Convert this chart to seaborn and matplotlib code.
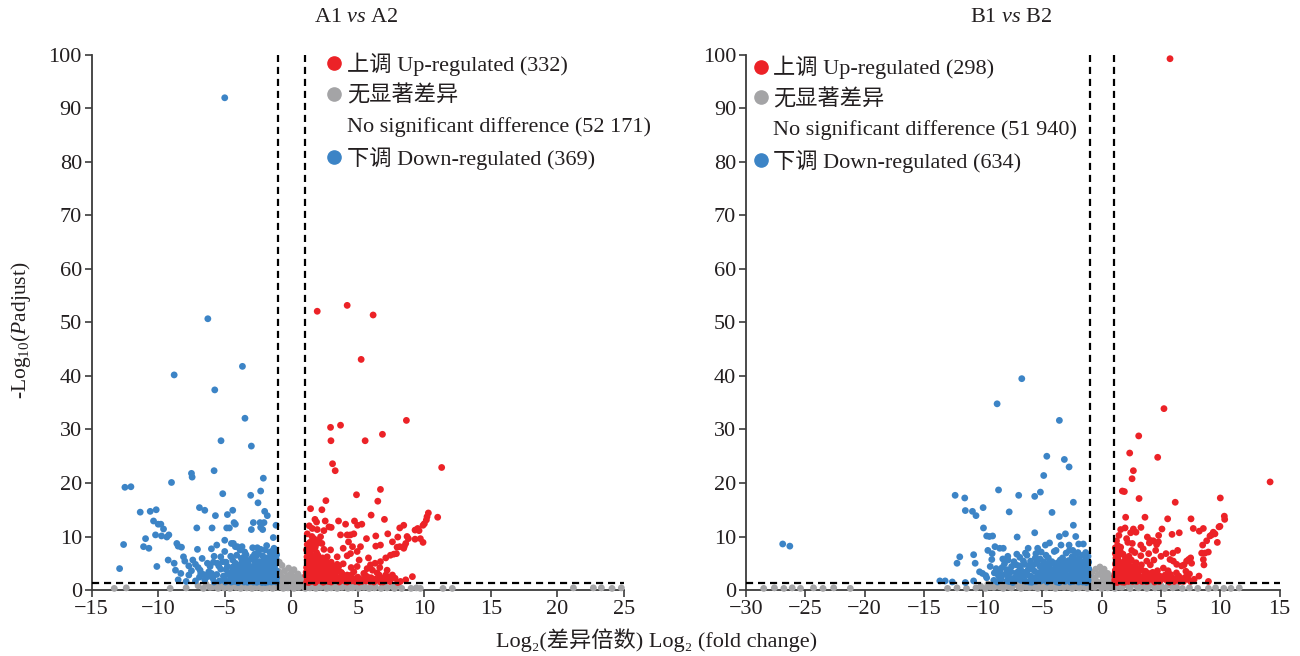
import matplotlib
matplotlib.use("Agg")
import matplotlib.pyplot as plt
from matplotlib.lines import Line2D
from matplotlib.font_manager import FontProperties
import seaborn as sns
import pandas as pd

# ---------------- data ----------------
titles = ["A1 vs A2", "B1 vs B2"]
legend_counts_a = ["332", "52 171", "369"]
legend_counts_b = ["298", "51 940", "634"]
xticks_a = [-15, -10, -5, 0, 5, 10, 15, 20, 25]
xticks_b = [-30, -25, -20, -15, -10, -5, 0, 5, 10, 15]
yticks = [0, 10, 20, 30, 40, 50, 60, 70, 80, 90, 100]
fc_cut = [-1, 1]
p_cut = 1.3

a1_down = [(-5.0,92.0),(-6.27,50.7),(-3.67,41.8),(-8.8,40.2),(-5.75,37.4),(-3.48,32.1),(-5.28,27.9),(-3.0,26.9),
    (-5.8,22.3),(-7.5,21.8),(-7.45,21.1),(-2.1,20.9),(-9.0,20.1),(-12.5,19.2),(-12.05,19.3),(-5.15,18.0),(-2.3,18.5),
    (-3.05,17.7),(-2.5,16.3),(-6.9,15.4),(-6.5,14.9),(-11.35,14.55),(-10.6,14.7),(-10.15,15.0),(-4.4,14.9),(-4.8,14.1),
    (-5.7,13.9),(-2.0,14.7),(-1.8,13.9),(-10.35,12.9),(-10.0,12.3),(-9.8,12.3),(-9.6,11.4),(-9.2,10.3),(-9.35,9.9),
    (-10.2,10.3),(-9.75,10.1),(-10.95,9.6),(-11.1,8.1),(-10.7,7.8),(-12.6,8.5),(-12.9,4.0),(-10.1,4.4),(-7.1,11.6),
    (-5.95,11.6),(-4.85,11.6),(-4.65,11.6),(-4.3,12.6),(-4.2,12.3),(-2.85,12.6),(-2.35,12.6),(-2.05,12.6),(-3.0,11.3),
    (-2.3,11.7),(-2.15,11.3),(-1.35,9.8),(-1.15,12.1),(-8.6,8.7),(-8.5,8.2),(-8.25,8.0),(-7.05,7.6),(-6.0,7.7),(-5.6,8.4),
    (-5.0,9.3),(-4.5,8.7),(-4.35,8.7),(-4.2,8.1),(-4.05,8.1),(-3.7,8.1),(-3.85,7.5),(-2.9,7.9),(-2.55,7.9),(-2.3,7.6),
    (-1.95,7.5),(-1.5,7.2),(-1.85,8.3),(-1.3,7.8),(-9.25,5.6),(-8.8,5.0),(-8.7,3.7),(-8.3,3.1),(-8.1,6.2),(-8.0,5.4),
    (-7.7,4.5),(-7.7,2.8),(-7.4,5.6),(-7.2,4.8),(-6.85,3.7),(-6.8,3.1),(-6.7,5.9),(-6.3,5.0),(-6.2,3.4),(-6.0,3.1),
    (-5.8,6.3),(-5.85,5.2),(-5.55,5.0),(-5.3,6.2),(-5.15,5.3),(-5.0,7.2),(-4.8,4.4),(-4.7,3.1),(-4.55,6.3),(-4.4,5.6),
    (-4.2,5.0),(-4.05,3.7),(-3.75,5.9),(-3.55,5.0),(-3.3,4.2),(-3.2,3.1),(-3.9,2.2),(-3.6,1.8),(-3.4,2.6),(-3.1,1.6),
    (-2.9,2.9),(-2.7,2.0),(-2.5,3.4),(-2.3,1.7),(-2.1,2.5),(-1.9,3.8),(-1.7,2.1),(-1.5,2.9),(-1.35,1.6),(-1.25,4.5),
    (-1.6,5.2),(-2.0,4.6),(-2.4,5.3),(-2.8,4.4),(-3.0,5.8),(-1.4,6.3),(-1.8,6.0),(-2.6,6.4),(-3.4,6.6),(-1.25,3.3),
    (-1.45,2.3),(-1.75,1.5),(-2.2,1.4),(-2.6,2.6),(-3.3,3.6),(-3.7,3.0),(-4.3,2.4),(-4.6,1.8),(-5.1,2.6),(-5.4,1.7),
    (-5.9,2.2),(-6.5,1.9),(-7.2,1.7),(-7.9,1.6),(-4.9,3.8),(-4.4,4.3),(-3.9,4.6),(-2.2,3.1),(-1.3,5.4),(-1.55,4.0),
    (-2.75,3.2),(-3.5,4.0),(-2.05,5.8),(-1.2,2.6),
    (-4.95,1.5),(-4.75,2.9),(-4.5,1.5),(-4.25,3.2),(-4.0,1.4),(-3.8,3.7),(-3.55,1.5),(-3.35,2.0),(-3.15,2.6),(-3.05,4.4),
    (-2.85,1.5),(-2.65,3.7),(-2.45,2.2),(-2.35,4.1),(-2.15,1.9),(-2.0,3.6),(-1.85,2.6),(-1.65,3.3),(-1.55,1.9),(-1.4,3.9),
    (-1.3,2.1),(-1.15,3.0),(-1.12,1.5),(-1.2,4.9),(-1.5,5.8),(-1.7,4.6),(-2.25,4.9),(-2.7,5.1),(-3.25,5.2),(-3.6,6.1),
    (-4.1,6.5),(-1.1,6.6),(-1.6,7.0),(-2.5,7.0),(-3.9,3.4),(-4.55,2.3),(-5.3,3.9),(-5.6,2.9),(-6.3,2.5),(-6.9,2.4),
    (-7.5,3.6),(-8.5,1.9),(-1.95,1.4),(-2.6,1.45),(-3.3,1.45),(-4.25,1.6),(-5.8,1.5),(-1.35,5.0),(-1.85,5.3),(-2.9,6.2),
    (-3.7,5.3),
    (-4.45,3.5),(-4.15,4.6),(-3.95,2.8),(-3.75,1.9),(-3.65,4.1),(-3.45,3.2),(-3.35,5.6),(-3.2,1.9),(-3.1,3.9),(-2.95,2.3),
    (-2.8,5.6),(-2.75,1.8),(-2.6,4.8),(-2.5,2.7),(-2.45,3.9),(-2.3,2.4),(-2.2,4.4),(-2.1,1.6),(-2.05,3.3),(-1.95,2.3),
    (-1.9,4.9),(-1.8,1.8),(-1.75,3.9),(-1.65,2.6),(-1.6,4.4),(-1.5,1.5),(-1.45,3.4),(-1.4,5.6),(-1.3,2.8),(-1.25,4.0),
    (-1.18,1.9),(-1.15,5.9),(-1.12,3.6),(-1.1,2.3),(-1.2,7.0),(-1.45,6.8),(-1.7,5.6),(-2.15,6.4),(-2.75,6.7),(-3.5,7.1),
    (-4.9,5.2),(-5.45,4.5),(-6.1,4.4),(-6.6,2.9),(-7.0,4.2),(-5.0,1.9),(-4.05,2.7),(-3.05,3.2)]

a1_up = [(1.95,52.1),(4.2,53.2),(6.15,51.4),(5.25,43.1),(8.65,31.7),(2.95,30.4),(3.7,30.8),(2.98,27.9),(5.55,27.9),
    (6.85,29.1),(3.1,23.6),(3.3,22.3),(11.3,22.9),(4.9,17.8),(6.7,18.8),(6.5,16.6),(2.6,16.7),(1.45,15.2),(2.3,15.0),
    (6.0,14.0),(10.3,14.4),(10.2,13.7),(11.0,13.6),(1.78,13.2),(1.9,12.7),(2.55,12.9),(3.55,12.9),(4.08,12.3),(4.75,12.9),
    (4.98,12.1),(2.83,11.8),(3.0,11.7),(1.58,11.5),(1.95,11.3),(10.15,13.1),(10.0,12.4),(9.9,12.1),(9.5,11.5),(9.3,11.2),
    (9.6,11.1),(8.45,12.1),(8.15,11.6),(5.65,9.6),(6.35,10.1),(7.25,10.5),(6.7,8.4),(6.35,8.2),(8.7,10.0),(8.8,9.6),
    (9.3,9.5),(9.7,9.6),(9.9,8.9),(8.6,8.7),(8.5,8.2),(8.15,8.1),(7.95,8.0),(2.45,11.1),(3.7,10.3),(4.2,10.3),(4.45,10.3),
    (4.3,9.0),(4.6,8.1),(4.2,6.4),(4.45,6.8),(4.95,7.2),(5.2,8.1),(2.3,8.7),(2.45,7.6),(2.95,7.5),(2.7,6.2),(3.1,4.5),
    (3.45,6.2),(1.7,9.6),(1.5,8.1),(1.55,6.2),(1.95,8.7),(2.2,9.95),(7.7,6.7),(7.45,6.5),(7.1,6.0),(6.7,5.3),(6.3,5.0),
    (5.95,4.7),(5.7,4.0),(6.1,3.7),(6.65,4.2),(7.2,3.7),(7.6,2.8),(7.1,2.8),(6.8,2.2),(6.45,3.2),(5.45,3.1),(4.95,4.4),
    (4.7,3.4),(4.2,2.8),(3.8,3.1),(3.2,2.5),(8.45,7.8),(7.9,6.8),(1.2,2.0),(1.3,3.5),(1.25,5.0),(1.35,6.5),(1.5,1.6),
    (1.6,2.8),(1.7,4.2),(1.75,5.6),(1.9,7.0),(2.0,1.8),(2.1,3.2),(2.2,4.8),(2.35,6.0),(2.5,2.2),(2.6,3.8),(2.8,1.6),
    (2.9,2.9),(3.0,5.2),(3.3,1.9),(3.5,3.5),(3.7,2.3),(4.0,1.7),(4.4,2.1),(4.8,1.6),(5.2,2.0),(5.6,1.7),(6.0,2.3),
    (6.4,1.8),(6.9,1.5),(7.3,1.9),(7.8,2.2),(8.2,1.6),(1.15,7.5),(1.4,8.9),(1.3,1.4),(1.8,1.4),(2.4,1.45),(3.6,1.5),
    (1.45,4.5),(1.95,5.0),(2.75,4.8),(3.2,3.9),(3.9,4.9),(4.5,4.2),(5.1,5.6),(5.5,3.0),(5.8,6.0),(1.55,10.0),(2.05,9.3),
    (3.9,7.8),(4.7,10.5),(5.3,12.3),(7.0,13.2),(8.0,9.9),(7.6,9.0),
    (1.15,1.5),(1.1,2.7),(1.15,4.2),(1.2,5.6),(1.4,2.3),(1.45,3.0),(1.55,5.3),(1.65,1.9),(1.75,3.4),(1.85,2.2),(1.9,4.4),
    (2.05,2.6),(2.15,5.6),(2.3,1.6),(2.35,3.8),(2.45,2.9),(2.55,4.6),(2.7,2.4),(2.85,3.5),(3.0,1.5),(3.1,2.6),(3.3,3.0),
    (3.45,2.2),(3.55,4.3),(3.8,1.9),(3.95,2.6),(4.2,1.5),(4.5,2.8),(4.7,1.9),(5.0,2.4),(5.3,1.6),(5.7,2.5),(6.2,1.5),
    (6.6,2.8),(7.0,1.7),(7.5,2.5),(8.0,1.4),(8.6,1.9),(9.1,2.5),(1.25,6.8),(1.6,6.0),(1.3,8.0),(1.7,7.6),(2.0,6.5),
    (2.6,5.4),(1.2,10.5),(1.35,12.0),
    (1.12,3.3),(1.18,6.2),(1.22,2.3),(1.28,4.6),(1.33,1.8),(1.38,3.9),(1.42,7.1),(1.5,2.0),(1.55,3.6),(1.6,4.9),
    (1.65,2.5),(1.72,6.3),(1.78,1.6),(1.82,3.0),(1.88,5.2),(1.98,2.3),(2.02,4.0),(2.1,6.0),(2.18,2.0),(2.25,4.2),
    (2.3,2.9),(2.4,5.1),(2.5,1.6),(2.55,3.3),(2.65,2.0),(2.7,4.3),(2.85,2.7),(2.95,3.9),(3.05,1.8),(3.2,3.2),(3.35,2.5),
    (3.45,4.8),(3.6,2.0),(3.75,3.3),(3.9,2.2),(4.1,1.6),(4.3,2.4),(4.55,1.7),(4.85,2.1),(5.1,1.5),(5.45,2.0),(5.9,1.6),
    (6.3,2.0),(6.7,1.5),(7.4,1.6),(1.2,8.5),(1.55,8.8),(1.8,8.0)]

a1_none = [(-13.3,0.3),(-12.4,0.4),(-9.1,0.3),(-7.9,0.4),(-6.6,0.3),(-6.1,0.5),(-5.5,0.3),(-5.05,0.4),(-4.6,0.3),
    (-4.15,0.5),(-3.8,0.3),(-3.35,0.4),(-2.95,0.3),(-2.6,0.5),(-2.2,0.3),(-1.85,0.4),(-1.4,0.3),(-1.05,0.5),(-0.6,0.3),
    (-0.25,0.4),(0.2,0.3),(0.55,0.5),(1.05,0.3),(1.4,0.4),(1.85,0.3),(2.2,0.5),(2.65,0.3),(3.0,0.4),(3.45,0.3),(3.8,0.5),
    (4.25,0.3),(4.6,0.4),(5.05,0.3),(5.45,0.5),(5.85,0.3),(6.25,0.4),(6.75,0.3),(7.2,0.4),(7.75,0.3),(8.3,0.3),(9.0,0.3),
    (9.4,0.4),(9.7,0.3),(11.4,0.3),(12.1,0.3),(21.2,0.4),(22.7,0.4),(23.3,0.4),(24.1,0.3),(24.8,0.4),
    (-5.2,0.9),(-4.4,1.0),(-3.6,0.8),(-2.9,1.0),(-2.3,0.9),(-1.6,1.0),(-1.1,0.9),(-0.5,1.0),(0.1,0.9),(0.7,1.0),
    (1.3,0.9),(2.0,1.0),(2.7,0.9),(3.3,1.0),(4.1,0.8),(4.8,0.9),(5.5,0.8),(6.3,0.7),
    (-0.9,1.6),(-0.6,2.1),(-0.3,2.7),(0.0,3.2),(0.3,2.5),(0.6,1.9),(0.9,1.5),(-0.8,2.8),(-0.5,3.6),(-0.2,4.1),(0.2,3.8),
    (0.5,3.0),(0.8,2.3),(-0.95,3.5),(-0.7,4.6),(-0.9,5.2),(0.1,1.7),(-0.4,1.5),
    (-7.0,0.8),(-6.4,1.1),(-5.9,0.6),(-5.6,1.2),(-4.9,0.6),(-4.7,1.2),(-4.1,0.7),(-3.9,1.2),(-3.2,0.7),(-3.0,1.2),
    (-2.5,0.7),(-2.0,1.2),(-1.7,0.6),(-1.3,1.25),(-0.8,0.6),(-0.4,1.2),(0.3,0.6),(0.45,1.3),(0.9,0.7),(1.15,1.2),
    (1.6,0.6),(1.75,1.2),(2.3,0.7),(2.4,1.2),(3.0,0.7),(3.1,1.2),(3.7,0.7),(3.9,1.2),(4.4,0.6),(4.6,1.1),(5.2,0.6),
    (5.3,1.1),(6.0,0.6),(6.1,1.0),(6.9,0.7),(7.0,1.0),(7.6,0.7),(8.0,0.9),(-0.7,1.4),(0.4,1.5),(-0.15,2.2),(0.7,1.3)]

b1_down = [(-6.74,39.5),(-8.82,34.8),(-3.57,31.7),(-4.63,25.0),(-3.15,24.4),(-2.75,23.0),(-4.89,21.4),(-5.17,18.3),
    (-8.7,18.7),(-5.65,17.5),(-7.0,17.7),(-12.36,17.7),(-11.55,17.2),(-11.5,14.85),(-10.9,14.7),(-10.6,13.9),(-10.0,15.4),
    (-7.8,14.6),(-4.19,14.5),(-2.39,16.4),(-2.39,12.1),(-9.97,11.6),(-9.7,10.1),(-9.47,10.0),(-9.2,10.1),(-7.13,9.9),
    (-5.65,10.7),(-3.57,10.0),(-3.06,10.5),(-2.19,10.0),(-4.75,8.4),(-4.4,8.8),(-3.43,8.4),(-2.75,8.4),(-1.94,8.6),
    (-1.55,8.6),(-26.9,8.6),(-26.3,8.2),(-9.0,8.1),(-8.6,7.8),(-8.3,7.8),(-5.4,7.8),(-6.2,7.8),(-9.6,7.4),(-5.1,7.1),
    (-5.55,6.8),(-3.85,7.4),(-2.72,7.4),(-2.44,7.4),(-9.24,6.8),(-10.8,6.6),(-11.97,6.2),(-12.2,5.0),(-10.67,5.0),
    (-10.3,3.4),(-10.05,3.1),(-9.78,2.7),(-9.7,2.3),(-9.05,3.2),(-8.9,4.0),(-9.27,5.7),(-8.34,5.8),(-7.92,6.3),(-7.16,6.7),
    (-6.6,5.4),(-6.43,6.9),(-13.65,1.7),(-13.2,1.7),(-12.6,1.5),(-11.5,1.4),(-10.8,1.7),
    (-8.5,2.0),(-8.1,3.0),(-7.8,1.6),(-7.6,4.4),(-7.3,2.4),(-7.0,3.5),(-6.8,1.8),(-6.5,4.8),(-6.3,2.9),(-6.1,1.5),
    (-5.9,3.9),(-5.7,2.2),(-5.5,5.1),(-5.3,3.2),(-5.1,1.7),(-4.9,4.3),(-4.7,2.6),(-4.5,6.0),(-4.3,3.6),(-4.1,1.9),
    (-3.9,4.9),(-3.7,2.9),(-3.5,5.6),(-3.3,3.8),(-3.1,1.6),(-2.9,4.6),(-2.7,2.4),(-2.5,6.2),(-2.3,3.4),(-2.1,5.0),
    (-1.9,2.0),(-1.7,4.1),(-1.5,2.9),(-1.3,5.6),(-1.15,1.8),(-1.25,3.5),(-1.6,6.5),(-2.0,7.0),(-3.0,6.9),(-4.0,7.2),
    (-1.4,4.6),(-1.8,3.1),(-2.6,4.0),(-3.6,4.3),(-4.6,4.9),(-5.6,6.0),(-6.6,3.3),(-7.4,5.3),(-8.2,4.9),(-8.7,2.6),
    (-2.2,2.6),(-1.2,2.5),(-3.8,1.5),(-5.0,2.9),(-6.0,5.4),(-2.8,5.5),(-1.9,5.9),(-1.35,7.0),(-4.2,5.3),(-3.2,2.2),
    (-2.4,1.6),(-1.6,1.5),(-7.0,2.1),(-8.0,1.7),(-6.9,6.1),(-5.2,4.4),(-4.4,2.3),(-3.4,4.8),(-2.0,4.2),(-1.1,4.0),
    (-8.8,1.5),(-8.4,2.7),(-8.0,3.8),(-7.7,2.2),(-7.5,1.4),(-7.2,3.2),(-6.95,4.5),(-6.7,2.6),(-6.4,1.6),(-6.2,3.8),
    (-5.95,2.5),(-5.8,4.6),(-5.55,1.6),(-5.4,3.0),(-5.2,5.8),(-5.0,2.3),(-4.85,3.4),(-4.6,1.5),(-4.5,4.0),(-4.35,2.9),
    (-4.2,5.0),(-4.0,2.4),(-3.85,3.5),(-3.7,1.7),(-3.55,4.5),(-3.4,2.3),(-3.25,3.1),(-3.05,5.2),(-2.95,2.7),(-2.8,3.9),
    (-2.65,1.5),(-2.55,3.0),(-2.4,4.6),(-2.25,2.2),(-2.1,3.8),(-1.95,1.5),(-1.85,4.8),(-1.75,2.6),(-1.6,3.5),(-1.45,2.0),
    (-1.35,4.3),(-1.2,3.0),(-1.1,5.2),(-1.15,6.3),(-1.5,5.3),(-2.3,5.8),(-3.3,6.0),(-4.7,6.5),(-6.3,6.5),(-7.9,5.6),
    (-8.6,3.5),(-9.1,1.8),(-9.4,4.4),(-2.2,6.8),(-1.3,1.4),(-3.6,1.4),(-5.9,1.45),
    (-7.9,2.6),(-7.65,3.4),(-7.35,1.8),(-7.1,2.8),(-6.85,4.0),(-6.55,2.0),(-6.35,3.4),(-6.05,2.6),(-5.85,1.7),(-5.65,3.5),
    (-5.45,2.3),(-5.25,4.6),(-5.05,3.6),(-4.8,1.9),(-4.65,3.0),(-4.4,4.6),(-4.25,2.0),(-4.05,3.1),(-3.95,4.0),(-3.8,2.5),
    (-3.6,3.4),(-3.45,1.9),(-3.35,4.2),(-3.15,2.8),(-3.0,3.6),(-2.85,2.0),(-2.7,4.4),(-2.6,2.6),(-2.45,3.4),(-2.35,1.9),
    (-2.2,4.2),(-2.05,2.5),(-1.95,3.4),(-1.85,2.3),(-1.7,3.1),(-1.6,4.6),(-1.5,2.4),(-1.4,3.6),(-1.3,2.0),(-1.25,4.8),
    (-1.15,2.7),(-1.12,3.9),(-1.2,1.6),(-1.35,5.5),(-1.75,5.3),(-2.5,5.1),(-3.7,5.1),(-4.9,5.3),(-6.1,4.6),(-7.2,4.7),
    (-8.4,4.2)]

b1_up = [(5.76,99.3),(5.25,33.9),(3.12,28.8),(2.36,25.6),(4.72,24.8),(2.67,22.3),(2.56,20.8),(14.2,20.2),(1.74,18.5),
    (1.91,18.4),(3.15,17.1),(6.2,16.4),(10.0,17.2),(2.02,13.6),(3.65,13.6),(5.56,13.3),(7.53,13.3),(10.34,13.8),
    (10.37,13.2),(1.6,11.3),(1.97,11.6),(2.67,11.4),(3.31,11.7),(5.08,11.4),(7.72,11.5),(8.57,11.5),(8.23,11.0),
    (9.97,11.9),(9.89,11.8),(9.41,10.8),(9.55,10.5),(9.27,10.3),(9.13,10.1),(2.44,10.7),(2.89,10.8),(5.93,10.4),
    (6.54,10.7),(4.8,10.2),(3.85,9.9),(4.07,9.3),(4.35,9.2),(4.78,9.0),(2.1,9.6),(2.58,8.7),(3.29,8.4),(4.02,8.8),
    (4.63,8.5),(6.4,7.4),(5.42,6.8),(3.96,6.8),(4.55,7.4),(2.53,7.4),(2.3,6.3),(7.5,6.0),(7.33,5.7),(7.16,5.4),(7.58,5.0),
    (8.51,8.4),(8.85,9.2),(8.71,6.9),(8.99,7.1),(8.43,6.9),(8.57,5.7),(8.62,4.7),(9.75,8.9),(6.04,5.4),(5.76,5.7),
    (6.32,4.8),(6.74,4.5),(6.94,4.7),(7.1,3.5),(9.0,1.6),
    (1.2,1.8),(1.3,3.0),(1.25,4.4),(1.4,5.6),(1.5,2.4),(1.6,3.8),(1.7,1.5),(1.8,4.9),(1.9,2.9),(2.0,6.0),(2.1,1.9),
    (2.2,3.5),(2.3,4.6),(2.4,2.4),(2.6,1.6),(2.7,3.2),(2.9,5.1),(3.0,2.1),(3.2,4.0),(3.4,1.6),(3.6,2.8),(3.8,5.4),
    (4.0,2.0),(4.3,3.3),(4.6,1.7),(4.9,2.6),(5.2,4.1),(5.5,1.8),(5.8,2.9),(6.1,1.6),(6.4,2.4),(6.8,1.9),(7.2,2.7),
    (7.5,1.6),(1.15,6.8),(1.35,8.3),(1.55,7.3),(1.3,1.4),(1.9,1.45),(2.5,5.6),(3.3,6.4),(4.4,5.6),(5.0,6.3),(3.5,7.7),
    (2.8,7.0),(4.1,4.7),(5.6,3.6),(6.0,6.9),(1.45,10.2),(2.2,8.9),
    (1.12,1.5),(1.1,2.6),(1.15,3.7),(1.2,5.1),(1.35,2.0),(1.4,4.1),(1.45,3.3),(1.55,1.7),(1.65,2.9),(1.7,4.5),(1.8,2.1),
    (1.85,3.5),(1.95,5.4),(2.05,2.6),(2.15,4.1),(2.25,1.6),(2.35,3.0),(2.5,4.0),(2.55,2.0),(2.7,2.6),(2.8,4.5),(2.95,1.6),
    (3.05,3.3),(3.2,2.4),(3.35,4.7),(3.5,2.0),(3.7,3.5),(3.85,1.6),(4.1,2.7),(4.45,1.5),(4.7,3.6),(5.0,1.9),(5.35,2.8),
    (5.7,1.5),(6.0,2.2),(6.3,3.2),(6.6,1.6),(7.0,2.3),(7.4,3.0),(7.8,2.0),(8.2,2.6),(1.2,6.0),(1.5,6.6),(1.3,7.4),
    (1.8,6.7),(2.3,5.4),(1.25,9.2),
    (1.1,1.9),(1.13,3.2),(1.17,4.8),(1.22,2.5),(1.27,3.9),(1.32,5.8),(1.38,1.6),(1.43,2.8),(1.48,4.6),(1.58,2.2),
    (1.62,3.4),(1.68,5.1),(1.75,2.5),(1.78,3.9),(1.88,1.7),(1.92,4.4),(1.98,3.1),(2.08,2.1),(2.12,4.8),(2.2,2.8),
    (2.28,3.8),(2.38,1.8),(2.45,3.2),(2.6,2.4),(2.62,4.4),(2.75,1.9),(2.85,3.0),(2.95,4.0),(3.1,2.7),(3.25,1.8),
    (3.4,3.7),(3.6,2.3),(3.75,1.6),(3.95,3.1),(4.2,2.1),(4.55,2.6),(4.85,1.6),(5.2,2.2),(5.55,2.7),(5.9,1.8),(6.5,2.6),
    (6.9,1.6),(7.3,2.0),(1.15,7.9),(1.6,8.0)]

b1_none = [(-28.5,0.3),(-27.6,0.4),(-26.8,0.3),(-26.1,0.4),(-25.4,0.3),(-24.3,0.4),(-23.5,0.3),(-22.6,0.4),(-21.2,0.3),
    (-13.0,0.3),(-12.2,0.4),(-11.4,0.3),(-10.6,0.4),(-9.8,0.3),(-9.1,0.5),(-8.3,0.3),(-7.6,0.4),(-6.8,0.3),(-6.1,0.5),
    (-5.4,0.3),(-4.7,0.4),(-3.9,0.3),(-3.2,0.5),(-2.5,0.3),(-1.9,0.4),(-1.2,0.3),(-0.6,0.5),(0.0,0.3),(0.5,0.4),
    (1.1,0.3),(1.7,0.5),(2.4,0.3),(3.1,0.4),(3.8,0.3),(4.5,0.4),(5.3,0.3),(6.0,0.4),(6.8,0.3),(7.4,0.4),(8.1,0.3),
    (9.0,0.3),(9.6,0.4),(10.3,0.3),(10.9,0.3),(11.6,0.4),
    (-9.0,0.9),(-8.2,1.0),(-7.5,0.8),(-6.9,1.0),(-6.2,0.9),(-5.6,1.0),(-4.9,0.8),(-4.3,1.0),(-3.7,0.9),(-3.1,1.0),
    (-2.4,0.9),(-1.8,1.0),(-1.3,0.9),(-0.7,1.0),(-0.2,0.9),(0.4,1.0),(0.9,0.9),(1.5,1.0),(2.1,0.9),(2.8,1.0),(3.5,0.8),
    (4.2,0.9),(5.0,0.8),
    (-0.9,1.5),(-0.6,2.2),(-0.3,2.9),(0.0,3.5),(0.3,2.7),(0.6,2.0),(0.9,1.6),(-0.8,3.3),(-0.5,3.9),(-0.15,4.3),
    (0.2,3.9),(0.5,3.1),(0.85,2.5),(-0.95,2.6),(0.1,1.8),(-0.4,1.6),
    (-10.2,0.7),(-9.6,1.1),(-9.4,0.6),(-8.7,1.2),(-8.6,0.6),(-7.9,1.1),(-7.8,0.6),(-7.2,1.2),(-7.0,0.6),(-6.5,1.2),
    (-6.4,0.6),(-5.8,1.2),(-5.7,0.6),(-5.2,1.2),(-5.0,0.6),(-4.5,1.2),(-4.3,0.6),(-3.9,1.2),(-3.5,0.6),(-3.3,1.2),
    (-2.8,0.6),(-2.7,1.2),(-2.1,0.6),(-2.0,1.2),(-1.5,0.6),(-1.4,1.25),(-0.9,0.6),(-0.4,1.2),(0.2,0.6),(0.6,1.3),
    (0.8,0.6),(1.3,1.2),(1.5,0.6),(2.0,1.2),(2.3,0.6),(2.7,1.2),(3.0,0.6),(3.4,1.1),(3.9,0.6),(4.4,1.1),(4.8,0.6),
    (5.6,0.9),(6.3,0.7),(-0.7,1.6),(0.5,1.6),(0.1,2.4)]

# ---------------- style ----------------
RED, BLUE, GRAY = "#EC2227", "#3C84C6", "#A4A4A6"
sns.set_style("ticks")
FAM = ["Liberation Serif", "DejaVu Serif", "Noto Sans CJK SC"]
plt.rcParams["font.family"] = FAM
plt.rcParams["mathtext.fontset"] = "custom"
plt.rcParams["mathtext.rm"] = "Liberation Serif"
plt.rcParams["mathtext.it"] = "Liberation Serif:italic"
TXT = "#231F20"
SPINE = "#3C3C3C"

fig = plt.figure(figsize=(13, 6.56), dpi=100)
ax_a = fig.add_axes([0.0705, 0.1006, 0.4095, 0.8156])
ax_b = fig.add_axes([0.5738, 0.1006, 0.4105, 0.8156])


def make_df(none, down, up):
    rows = []
    for name, pts in (("none", none), ("down", down), ("up", up)):
        for x, y in pts:
            rows.append({"fc": x, "p": y, "grp": name})
    return pd.DataFrame(rows)


def draw(ax, df, xlim, xticks, counts, leg_anchor):
    pal = {"none": GRAY, "down": BLUE, "up": RED}
    sns.scatterplot(data=df, x="fc", y="p", hue="grp", palette=pal, s=24,
                    linewidth=0, legend=False, ax=ax, clip_on=False, zorder=3)
    for v in fc_cut:
        ax.axvline(v, color="black", lw=1.6, ls=(0, (3.2, 2.2)), zorder=4)
    ax.axhline(p_cut, color="black", lw=1.6, ls=(0, (3.2, 2.2)), zorder=4)
    ax.set_xlim(*xlim)
    ax.set_ylim(0, 100)
    ax.set_xticks(xticks)
    ax.set_yticks(yticks)
    ax.set_xticklabels([str(t).replace("-", "\u2212") for t in xticks])
    ax.set_xlabel("")
    ax.set_ylabel("")
    sns.despine(ax=ax)
    for sp in ("left", "bottom"):
        ax.spines[sp].set_color(SPINE)
        ax.spines[sp].set_linewidth(1.3)
    ax.tick_params(axis="both", direction="out", length=5, width=1.2,
                   color=SPINE, labelsize=16, labelcolor=TXT, pad=2)
    handles = [
        Line2D([], [], ls="", marker="o", color=RED, markersize=9.5),
        Line2D([], [], ls="", marker="o", color=GRAY, markersize=9.5),
        Line2D([], [], ls="", marker=None),
        Line2D([], [], ls="", marker="o", color=BLUE, markersize=9.5),
    ]
    labels = [f"上调 Up-regulated ({counts[0]})",
              "无显著差异",
              f"No significant difference ({counts[1]})",
              f"下调 Down-regulated ({counts[2]})"]
    ax.legend(handles, labels, loc="upper left", bbox_to_anchor=leg_anchor,
              frameon=False, prop=FontProperties(family=FAM, size=16),
              handlelength=0.65, handletextpad=0.25, labelspacing=0.43,
              borderpad=0, borderaxespad=0, labelcolor=TXT)


draw(ax_a, make_df(a1_none, a1_down, a1_up), (-15, 25), xticks_a, legend_counts_a, (0.442, 1.004))
draw(ax_b, make_df(b1_none, b1_down, b1_up), (-30, 15), xticks_b, legend_counts_b, (0.014, 0.998))

fig.text(0.2745, 0.974, r"A1 $\mathit{vs}$ A2", ha="center", va="center", fontsize=16, color=TXT)
fig.text(0.778, 0.974, r"B1 $\mathit{vs}$ B2", ha="center", va="center", fontsize=16, color=TXT)
fig.text(0.016, 0.497, r"-Log$_{10}$($\mathit{P}$adjust)", rotation=90, ha="center", va="center",
         fontsize=15.5, color=TXT)
fig.text(0.505, 0.024, "Log\u2082(差异倍数) Log\u2082 (fold change)", ha="center", va="center",
         fontsize=16, color=TXT, family=FAM)

fig.savefig("out.png", dpi=100)
